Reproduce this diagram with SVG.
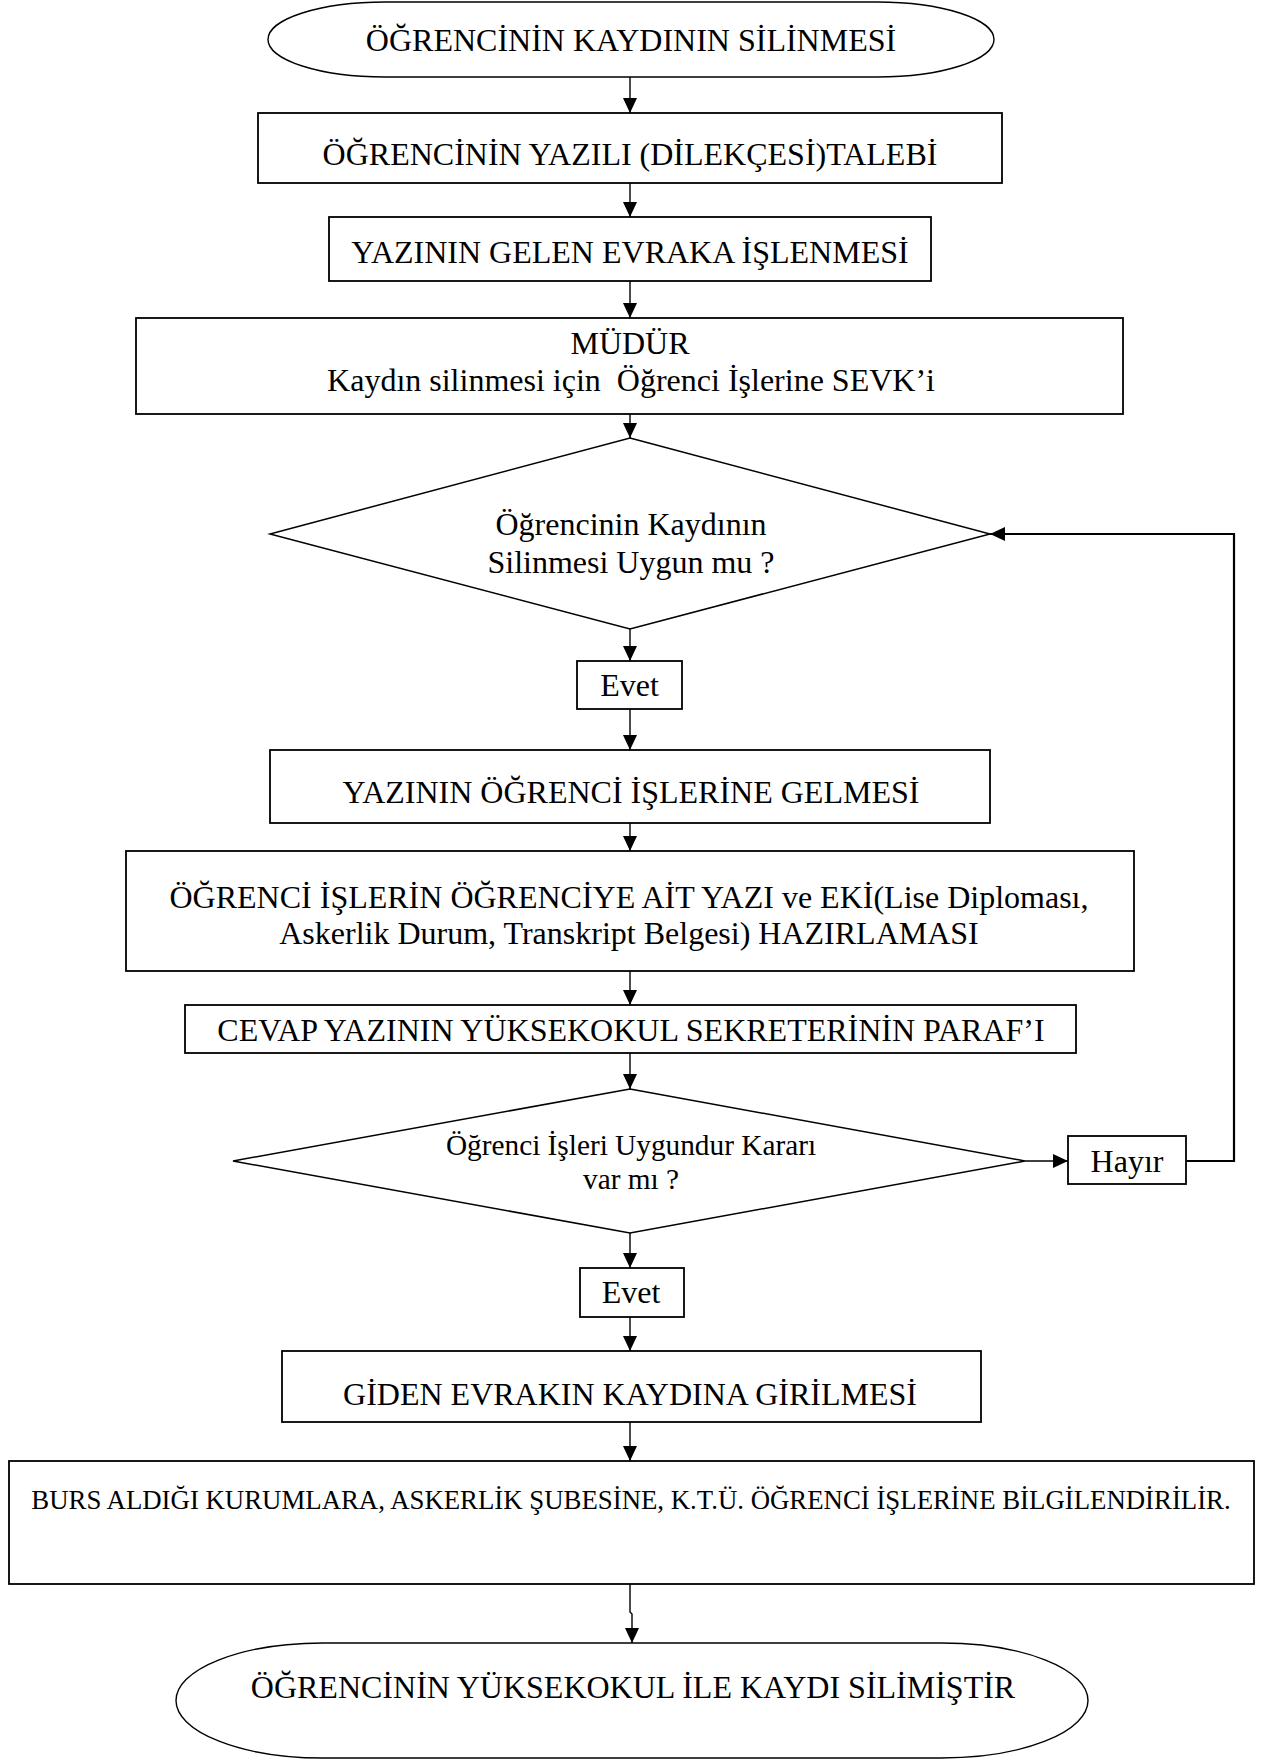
<svg xmlns="http://www.w3.org/2000/svg" width="1262" height="1760" viewBox="0 0 1262 1760">
  <defs>
    <marker id="arrow" markerUnits="userSpaceOnUse" viewBox="0 0 15 14" refX="15" refY="7" markerWidth="15" markerHeight="14" orient="auto">
      <path d="M0,0 L15,7 L0,14 Z" fill="#000"/>
    </marker>
  </defs>
  <style>
    .box { fill: #fff; stroke: #000; stroke-width: 1.8; }
    .shape { fill: #fff; stroke: #000; stroke-width: 1.5; }
    .term { fill: #fff; stroke: #000; stroke-width: 1.4; }
    .t { font-family: "Liberation Serif", "Times New Roman", serif; font-size: 32px; fill: #000; text-anchor: middle; }
    .t2 { font-size: 29.3px; }
    .t3 { font-size: 26.8px; }
    .pre { white-space: pre; }
    .link { fill: none; stroke: #000; stroke-width: 1.4; marker-end: url(#arrow); }
    .loop { fill: none; stroke: #000; stroke-width: 2.2; marker-end: url(#arrow); }
  </style>
  <rect width="1262" height="1760" fill="#fff"/>

  <!-- connectors -->
  <g id="connectors">
    <path class="link" d="M630,77 V113"/>
    <path class="link" d="M630,183 V217"/>
    <path class="link" d="M630,281 V318"/>
    <path class="link" d="M630,414 V438"/>
    <path class="link" d="M630,629 V661"/>
    <path class="link" d="M630,709 V750"/>
    <path class="link" d="M630,823 V851"/>
    <path class="link" d="M630,971 V1005"/>
    <path class="link" d="M630,1053 V1089"/>
    <path class="link" d="M630,1233 V1268"/>
    <path class="link" d="M630,1317 V1351"/>
    <path class="link" d="M630,1422 V1461"/>
    <path class="link" d="M630,1584 V1612 L632,1614 V1643"/>
    <path class="link" d="M1025,1161 H1068"/>
    <path class="loop" d="M1186,1161 H1234 V534 H990"/>
  </g>

  <g id="start">
    <path class="term" d="M385,2 H877 A117,37.5 0 0 1 877,77 H385 A117,37.5 0 0 1 385,2 Z"/>
    <text class="t" x="631" y="51">ÖĞRENCİNİN KAYDININ SİLİNMESİ</text>
  </g>

  <g id="request">
    <rect class="box" x="258" y="113" width="744" height="70"/>
    <text class="t" x="630" y="165">ÖĞRENCİNİN YAZILI (DİLEKÇESİ)TALEBİ</text>
  </g>

  <g id="incoming">
    <rect class="box" x="329" y="217" width="602" height="64"/>
    <text class="t" x="630" y="263">YAZININ GELEN EVRAKA İŞLENMESİ</text>
  </g>

  <g id="director">
    <rect class="box" x="136" y="318" width="987" height="96"/>
    <text class="t" x="630" y="354">MÜDÜR</text>
    <text class="t pre" x="631" y="391">Kaydın silinmesi için  Öğrenci İşlerine SEVK’i</text>
  </g>

  <g id="decision1">
    <polygon class="shape" points="630,438 990,534 630,629 270,534"/>
    <text class="t" x="631" y="535">Öğrencinin Kaydının</text>
    <text class="t" x="631" y="573">Silinmesi Uygun mu ?</text>
  </g>

  <g id="yes1">
    <rect class="box" x="577" y="661" width="105" height="48"/>
    <text class="t" x="629.5" y="696">Evet</text>
  </g>

  <g id="arrival">
    <rect class="box" x="270" y="750" width="720" height="73"/>
    <text class="t" x="631" y="803">YAZININ ÖĞRENCİ İŞLERİNE GELMESİ</text>
  </g>

  <g id="preparation">
    <rect class="box" x="126" y="851" width="1008" height="120"/>
    <text class="t" x="629" y="908">ÖĞRENCİ İŞLERİN ÖĞRENCİYE AİT YAZI ve EKİ(Lise Diploması,</text>
    <text class="t" x="629" y="944">Askerlik Durum, Transkript Belgesi) HAZIRLAMASI</text>
  </g>

  <g id="initial">
    <rect class="box" x="185" y="1005" width="891" height="48"/>
    <text class="t" x="631" y="1041">CEVAP YAZININ YÜKSEKOKUL SEKRETERİNİN PARAF’I</text>
  </g>

  <g id="decision2">
    <polygon class="shape" points="630,1089 1025,1161 630,1233 233,1161"/>
    <text class="t t2" x="631" y="1155">Öğrenci İşleri Uygundur Kararı</text>
    <text class="t t2" x="631" y="1189">var mı ?</text>
  </g>

  <g id="no">
    <rect class="box" x="1068" y="1136" width="118" height="48"/>
    <text class="t" x="1127" y="1172">Hayır</text>
  </g>

  <g id="yes2">
    <rect class="box" x="580" y="1268" width="104" height="49"/>
    <text class="t" x="631" y="1303">Evet</text>
  </g>

  <g id="outgoing">
    <rect class="box" x="282" y="1351" width="699" height="71"/>
    <text class="t" x="630" y="1405">GİDEN EVRAKIN KAYDINA GİRİLMESİ</text>
  </g>

  <g id="notify">
    <rect class="box" x="9" y="1461" width="1245" height="123"/>
    <text class="t t3" x="631" y="1509">BURS ALDIĞI KURUMLARA, ASKERLİK ŞUBESİNE, K.T.Ü. ÖĞRENCİ İŞLERİNE BİLGİLENDİRİLİR.</text>
  </g>

  <g id="end">
    <path class="term" d="M323,1643 H941 A147,57.5 0 0 1 941,1758 H323 A147,57.5 0 0 1 323,1643 Z"/>
    <text class="t" x="633" y="1698">ÖĞRENCİNİN YÜKSEKOKUL İLE KAYDI SİLİMİŞTİR</text>
  </g>
</svg>
